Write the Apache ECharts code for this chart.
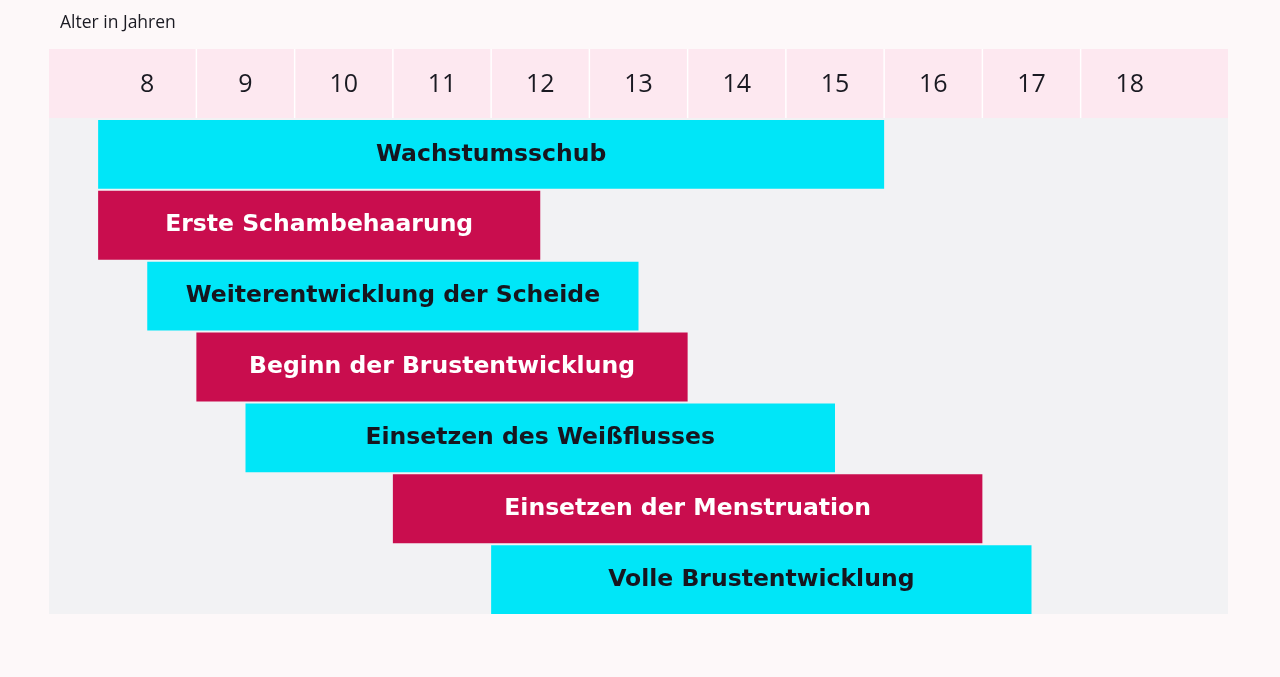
<!DOCTYPE html>
<html><head><meta charset="utf-8">
<script src="https://cdn.jsdelivr.net/npm/echarts@6/dist/echarts.min.js"></script>
<style>html,body{margin:0;padding:0;background:#fdf8f9;}#c{width:1280px;height:677px;}</style>
</head><body><div id="c"></div>
<script>
var years = [8, 9, 10, 11, 12, 13, 14, 15, 16, 17, 18];
var stages = ['Wachstumsschub', 'Erste Schambehaarung', 'Weiterentwicklung der Scheide', 'Beginn der Brustentwicklung', 'Einsetzen des Weißflusses', 'Einsetzen der Menstruation', 'Volle Brustentwicklung'];
var startAge = [7.5, 7.5, 8.0, 8.5, 9.0, 10.5, 11.5];
var endAge = [15.5, 12.0, 13.0, 13.5, 15.0, 16.5, 17.0];
var CYAN = '#00e6f8', RED = '#c90d4e', DARK = '#16161f';
var FONT = '"Open Sans"';
var BAR_FONT = '"DejaVu Sans"';

var chart = echarts.init(document.getElementById('c'), null, {renderer: 'canvas'});
var barData = stages.map(function (s, i) { return [startAge[i], endAge[i], i, s]; });

chart.setOption({
  backgroundColor: '#fdf8f9',
  animation: false,
  title: {text: 'Alter in Jahren', left: 55, top: 9, textStyle: {fontFamily: 'Open Sans', fontSize: 17.5, fontWeight: 'normal', color: '#1a1a22'}},
  grid: [
    {left: 49, right: 52, top: 49, height: 69, show: true, backgroundColor: '#fde8f0', borderWidth: 0},
    {left: 49, right: 52, top: 118, bottom: 63, show: true, backgroundColor: '#f2f2f4', borderWidth: 0}
  ],
  xAxis: [
    {gridIndex: 0, type: 'value', min: 7, max: 19, show: false},
    {gridIndex: 1, type: 'value', min: 7, max: 19, show: false}
  ],
  yAxis: [
    {gridIndex: 0, type: 'value', min: 0, max: 1, show: false},
    {gridIndex: 1, type: 'category', data: stages, inverse: true, show: false}
  ],
  series: [
    {
      type: 'custom', xAxisIndex: 0, yAxisIndex: 0,
      data: years.map(function (y) { return [y]; }),
      renderItem: function (params, api) {
        var v = api.value(0);
        var p = api.coord([v, 0.5]);
        var top = api.coord([v, 1])[1], bot = api.coord([v, 0])[1];
        var children = [{
          type: 'text',
          style: {text: String(v), x: p[0], y: p[1] + 1, textAlign: 'center', textVerticalAlign: 'middle',
            font: 'normal 25px ' + FONT, fill: '#1a1a22'}
        }];
        if (v < years[years.length - 1]) {
          var xs = api.coord([v + 0.5, 0])[0];
          children.push({type: 'line', shape: {x1: xs, y1: top, x2: xs, y2: bot}, style: {stroke: '#ffffff', lineWidth: 1.5}});
        }
        return {type: 'group', children: children};
      }
    },
    {
      type: 'custom', xAxisIndex: 1, yAxisIndex: 1,
      data: barData,
      encode: {x: [0, 1], y: 2},
      renderItem: function (params, api) {
        var i = api.value(2);
        var a = api.coord([api.value(0), i]);
        var b = api.coord([api.value(1), i]);
        var band = api.size([0, 1])[1];
        var y0 = a[1] - band / 2 + 2;
        var h = band - 2;
        var col = i % 2 === 0 ? CYAN : RED;
        var tcol = i % 2 === 0 ? DARK : '#ffffff';
        return {type: 'group', children: [
          {type: 'rect', shape: {x: a[0], y: y0, width: b[0] - a[0], height: h}, style: {fill: col}},
          {type: 'text', style: {text: stages[i], x: (a[0] + b[0]) / 2, y: y0 + h / 2, textAlign: 'center', textVerticalAlign: 'middle',
            font: 'bold 23.5px ' + BAR_FONT, fill: tcol}}
        ]};
      }
    }
  ]
});
</script></body></html>
